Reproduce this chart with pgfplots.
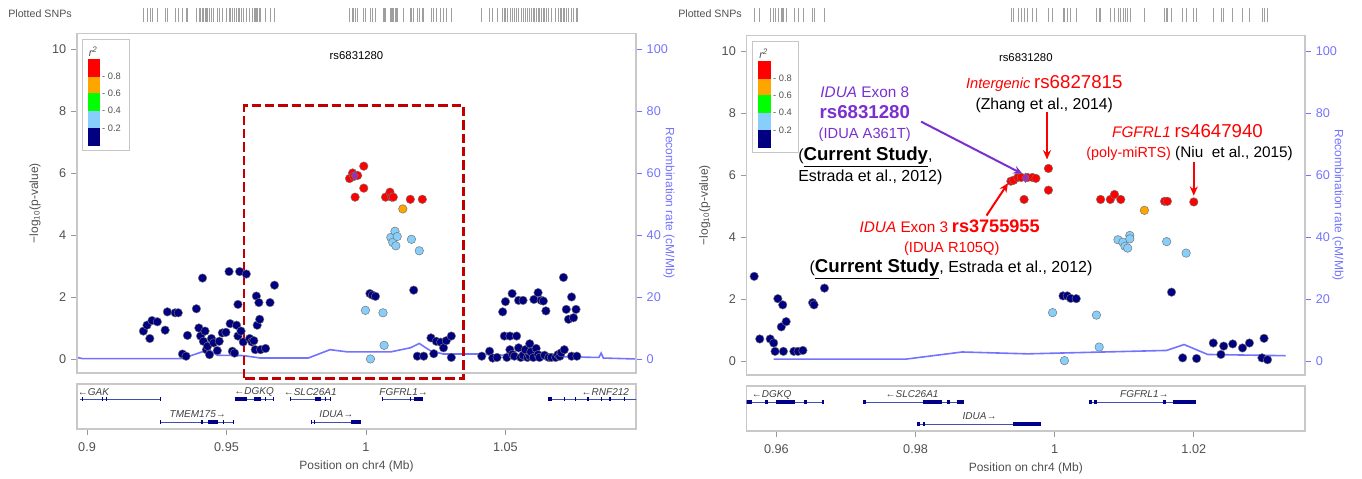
\documentclass[border=0pt]{standalone}
\usepackage{fontspec}
\setmainfont{Liberation Sans}
\usepackage{pgfplots}
\pgfplotsset{compat=1.18}
\usepackage{pgfplotstable}
\usetikzlibrary{arrows.meta}

\definecolor{r2navy}{HTML}{000080}
\definecolor{r2blue}{HTML}{87CEFA}
\definecolor{r2green}{HTML}{00FF00}
\definecolor{r2orange}{HTML}{FFA500}
\definecolor{r2red}{HTML}{FF0000}
\definecolor{leadpurple}{HTML}{9632B8}
\definecolor{annpurple}{HTML}{7A30D0}
\definecolor{recblue}{HTML}{7373FF}
\definecolor{framegray}{HTML}{C8C8C8}
\definecolor{txtgray}{HTML}{505050}
\definecolor{boxred}{HTML}{C00000}
\definecolor{genenavy}{HTML}{000088}
\definecolor{introblue}{HTML}{4050B0}

\pgfplotsset{
  /pgf/number format/assume math mode=true,
  lzbase/.style={scale only axis,
    ticklabel style={font=\fontsize{9.5}{11}\selectfont, text=txtgray},
    tick style={gray!80, line width=0.5pt},
    major tick length=4.5pt, tick align=outside,
    axis line style={framegray, line width=0.9pt}},
  snp/.style={only marks, mark=*, mark size=3.2pt,
    mark options={draw=black!55, line width=0.35pt, fill=#1}},
  rug/.style={only marks, mark=|, mark size=5pt,
    mark options={gray!75, line width=0.45pt}},
  exon/.style={genenavy, line width=3pt},
  intron/.style={introblue, line width=0.6pt},
}

\tikzset{annarrow/.style={line width=1.5pt, -{Stealth[length=7pt,width=6pt]}},
  genelab/.style={font=\fontsize{7.5}{9}\selectfont\itshape, text=black!75, inner sep=0pt}}

% r^2 legend: box left, bar left, bar right, box right
\newcommand\rsqlegend[4]{%
  \draw[gray!45, line width=0.6pt] (axis cs:#1,6.72) rectangle (axis cs:#4,10.32);
  \fill[r2navy] (axis cs:#2,6.87) rectangle (axis cs:#3,7.44);
  \fill[r2blue] (axis cs:#2,7.44) rectangle (axis cs:#3,8.01);
  \fill[r2green] (axis cs:#2,8.01) rectangle (axis cs:#3,8.57);
  \fill[r2orange] (axis cs:#2,8.57) rectangle (axis cs:#3,9.11);
  \fill[r2red] (axis cs:#2,9.11) rectangle (axis cs:#3,9.67);
  \node[anchor=west, font=\fontsize{7}{8}\selectfont, text=txtgray, inner sep=1.5pt] at (axis cs:#3,7.44) {- 0.2};
  \node[anchor=west, font=\fontsize{7}{8}\selectfont, text=txtgray, inner sep=1.5pt] at (axis cs:#3,8.01) {- 0.4};
  \node[anchor=west, font=\fontsize{7}{8}\selectfont, text=txtgray, inner sep=1.5pt] at (axis cs:#3,8.57) {- 0.6};
  \node[anchor=west, font=\fontsize{7}{8}\selectfont, text=txtgray, inner sep=1.5pt] at (axis cs:#3,9.11) {- 0.8};
  \node[font=\fontsize{8}{9}\selectfont\itshape, text=txtgray] at (axis cs:#2,9.92) [xshift=4pt] {r\textsuperscript{2}};
}

% ---------------- left panel data ----------------
\pgfplotstableread{
x y
0.9202 0.90
0.9215 1.09
0.9225 0.66
0.9233 1.24
0.9252 1.20
0.9280 0.93
0.9288 1.52
0.9316 1.49
0.9327 1.49
0.9342 0.16
0.9355 0.09
0.9360 0.76
0.9392 1.62
0.9401 1.00
0.9407 0.74
0.9414 2.61
0.9417 0.57
0.9423 0.90
0.9428 0.30
0.9432 0.41
0.9439 0.14
0.9446 0.66
0.9454 0.52
0.9467 0.27
0.9474 0.57
0.9485 0.84
0.9498 0.86
0.9509 2.82
0.9513 1.14
0.9521 0.25
0.9529 0.19
0.9536 1.09
0.9541 1.76
0.9541 0.74
0.9547 2.82
0.9552 0.90
0.9560 0.55
0.9571 2.74
0.9583 0.66
0.9591 0.55
0.9598 0.59
0.9603 0.30
0.9607 2.03
0.9610 1.09
0.9616 1.82
0.9619 1.28
0.9622 0.30
0.9640 0.34
0.9656 1.82
0.9672 2.38
1.0014 2.11
1.0023 2.06
1.0034 2.02
1.0171 2.22
1.0184 0.09
1.0207 0.09
1.0233 0.68
1.0243 0.17
1.0252 0.57
1.0268 0.54
1.0278 0.36
1.0288 0.59
1.0306 0.74
1.0306 0.05
1.0415 0.09
1.0443 0.25
1.0454 0.03
1.0470 0.05
1.0490 1.52
1.0500 1.85
1.0496 0.74
1.0505 0.05
1.0516 0.74
1.0524 2.11
1.0516 0.30
1.0525 0.15
1.0532 0.09
1.0540 0.74
1.0547 1.89
1.0547 0.36
1.0555 0.05
1.0563 1.89
1.0563 0.12
1.0571 0.30
1.0579 0.05
1.0587 0.49
1.0587 0.09
1.0591 0.23
1.0600 0.05
1.0602 1.92
1.0610 0.34
1.0617 2.14
1.0617 0.14
1.0622 0.05
1.0628 1.89
1.0636 1.87
1.0640 0.12
1.0645 1.55
1.0655 0.05
1.0665 0.05
1.0680 0.05
1.0688 0.14
1.0695 0.09
1.0700 0.20
1.0708 2.63
1.0711 0.30
1.0718 1.60
1.0726 1.28
1.0737 2.00
1.0737 0.09
1.0744 1.33
1.0753 1.60
1.0756 0.09
}\Lnavy

\pgfplotstableread{
x y
1.0089 3.92
1.0096 3.76
1.0104 4.12
1.0107 3.65
1.0112 3.95
1.0163 3.86
1.0191 3.49
0.9998 1.57
1.0061 1.49
1.0065 0.44
1.0016 0.00
}\Lblue

\pgfplotstableread{
x y
1.0132 4.84
}\Lorange

\pgfplotstableread{
x y
0.9941 5.82
0.9952 6.00
0.9956 5.89
0.9961 5.22
0.9970 5.92
0.9992 6.22
0.9992 5.51
1.0070 5.22
1.0086 5.38
1.0092 5.22
1.0098 5.22
1.0159 5.15
1.0202 5.15
}\Lred

\pgfplotstableread{
x y
0.9960 5.91
}\Llead

% recombination rate (cM/Mb)
\pgfplotstableread{
x y
0.8964 0.5
0.8985 0.1
0.9340 0.1
0.9436 3.0
0.9467 1.2
0.9560 1.1
0.9622 0.3
0.9793 0.3
0.9871 3.0
0.9933 2.3
1.0089 2.3
1.0159 3.6
1.0191 5.0
1.0230 2.7
1.0277 1.6
1.0401 1.6
1.0555 0.9
1.0835 0.5
1.0843 1.9
1.0851 0.3
1.0968 0.0
}\Lrec

% ---------------- right panel data ----------------
\pgfplotstableread{
x y
0.9568 2.73
0.9576 0.71
0.9591 0.71
0.9596 0.58
0.9598 0.31
0.9602 2.01
0.9607 1.10
0.9609 1.81
0.9610 0.31
0.9614 1.27
0.9625 0.31
0.9631 0.31
0.9638 0.34
0.9652 1.88
0.9654 1.81
0.9669 2.35
1.0012 2.10
1.0018 2.10
1.0023 2.02
1.0031 2.01
1.0168 2.22
1.0184 0.10
1.0204 0.08
1.0228 0.58
1.0239 0.21
1.0243 0.48
1.0256 0.55
1.0270 0.42
1.0280 0.58
1.0301 0.73
1.0298 0.10
1.0306 0.04
}\Rnavy

\pgfplotstableread{
x y
0.9997 1.56
1.0014 0.01
1.0060 1.48
1.0064 0.45
1.0091 3.91
1.0098 3.83
1.0101 3.70
1.0105 3.64
1.0108 4.05
1.0108 3.94
1.0161 3.85
1.0189 3.48
}\Rblue

\pgfplotstableread{
x y
1.0129 4.86
}\Rorange

\pgfplotstableread{
x y
0.9937 5.80
0.9941 5.83
0.9947 5.92
0.9952 5.92
0.9956 5.21
0.9961 5.92
0.9968 5.92
0.9973 5.89
0.9991 6.21
0.9991 5.51
1.0066 5.21
1.0080 5.21
1.0086 5.37
1.0095 5.21
1.0158 5.15
1.0162 5.15
1.0200 5.13
}\Rred

\pgfplotstableread{
x y
0.9958 5.91
}\Rlead

\pgfplotstableread{
x y
0.9596 0.6
0.9786 0.6
0.9867 2.9
0.9961 2.3
1.0161 3.4
1.0186 5.3
1.0220 2.1
1.0332 1.7
}\Rrec

\begin{document}
\begin{tikzpicture}
\path[use as bounding box] (0,0) rectangle (1021.5pt,358.5pt);

% ================= LEFT PANEL =================
\node[font=\fontsize{8}{9}\selectfont, text=txtgray] at (30pt,348pt) {Plotted SNPs};
\begin{axis}[scale only axis, at={(57.75pt,352.5pt)}, anchor=north west,
  width=419.25pt, height=10.5pt, xmin=0.8964, xmax=1.0968, ymin=0, ymax=1, hide axis]
\addplot[rug] table[x=x, y expr=0.5] {\Lnavy};
\addplot[rug] table[x=x, y expr=0.5] {\Lblue};
\addplot[rug] table[x=x, y expr=0.5] {\Lorange};
\addplot[rug] table[x=x, y expr=0.5] {\Lred};
\end{axis}

% recombination rate axis (right)
\begin{axis}[lzbase, at={(57.75pt,333.4pt)}, anchor=north west,
  width=419.25pt, height=254.6pt,
  xmin=0.8964, xmax=1.0968, ymin=-4.5, ymax=105,
  axis x line=none, axis y line*=right,
  y axis line style={draw=none},
  ytick={0,20,...,100},
  ytick style={recblue},
  yticklabel style={text=recblue},
  ylabel={Recombination rate (cM/Mb)},
  ylabel style={at={(axis description cs:1.059,0.5)}, anchor=center, rotate=180,
    font=\fontsize{9}{11}\selectfont, text=recblue}]
\addplot[recblue, line width=1.2pt] table {\Lrec};
\end{axis}

% association axis
\begin{axis}[lzbase, at={(57.75pt,333.4pt)}, anchor=north west,
  width=419.25pt, height=254.6pt,
  xmin=0.8964, xmax=1.0968, ymin=-0.45, ymax=10.5,
  xtick=\empty, ytick={0,2,...,10}, ytick pos=left, clip=false,
  ylabel={−log\textsubscript{10}(p-value)},
  ylabel style={at={(axis description cs:-0.075,0.5)}, anchor=center,
    font=\fontsize{9}{11}\selectfont, text=txtgray}]
\addplot[snp=r2navy] table {\Lnavy};
\addplot[snp=r2blue] table {\Lblue};
\addplot[snp=r2orange] table {\Lorange};
\addplot[snp=r2red] table {\Lred};
\addplot[only marks, mark=diamond*, mark size=3.6pt,
  mark options={draw=black!55, line width=0.3pt, fill=leadpurple}] table {\Llead};
\node[font=\fontsize{8.5}{10}\selectfont] at (rel axis cs:0.5,0.935) {rs6831280};
\rsqlegend{0.8984}{0.9003}{0.9046}{0.9151}
\draw[boxred, line width=2pt, dash pattern=on 7pt off 3pt]
  (axis cs:0.9563,-0.62) rectangle (axis cs:1.0350,8.17);
\end{axis}

% gene track
\begin{axis}[lzbase, at={(57.75pt,70.5pt)}, anchor=north west,
  width=419.25pt, height=33.75pt,
  xmin=0.8964, xmax=1.0968, ymin=0, ymax=1,
  ytick=\empty, xtick={0.9,0.95,1,1.05}, xticklabels={0.9,0.95,1,1.05},
  xtick pos=bottom, xticklabel style={yshift=-2.5pt},
  xlabel={Position on chr4 (Mb)},
  xlabel style={font=\fontsize{9}{11}\selectfont, text=txtgray},
  unbounded coords=jump]
\addplot[intron] coordinates {(0.8974,0.66) (0.9264,0.66) (nan,nan)
  (0.9529,0.66) (0.9672,0.66) (nan,nan) (0.9728,0.66) (0.9874,0.66) (nan,nan)
  (1.0058,0.66) (1.0205,0.66) (nan,nan) (1.0652,0.66) (1.0975,0.66) (nan,nan)
  (0.9264,0.15) (0.9524,0.15) (nan,nan) (0.9806,0.15) (0.9983,0.15)};
\addplot[exon] coordinates {
  (0.8982,0.66) (0.8987,0.66) (nan,nan) (0.9052,0.66) (0.9057,0.66) (nan,nan)
  (0.9068,0.66) (0.9073,0.66) (nan,nan) (0.9262,0.66) (0.9266,0.66) (nan,nan)
  (0.9529,0.66) (0.9575,0.66) (nan,nan) (0.9599,0.66) (0.9622,0.66) (nan,nan)
  (0.9638,0.66) (0.9643,0.66) (nan,nan) (0.9667,0.66) (0.9672,0.66) (nan,nan)
  (0.9726,0.66) (0.9731,0.66) (nan,nan) (0.9816,0.66) (0.9840,0.66) (nan,nan)
  (0.9853,0.66) (0.9858,0.66) (nan,nan) (0.9872,0.66) (0.9876,0.66) (nan,nan)
  (1.0056,0.66) (1.0061,0.66) (nan,nan) (1.0157,0.66) (1.0161,0.66) (nan,nan)
  (1.0172,0.66) (1.0205,0.66) (nan,nan)
  (1.0652,0.66) (1.0667,0.66) (nan,nan) (1.0709,0.66) (1.0713,0.66) (nan,nan)
  (1.0748,0.66) (1.0752,0.66) (nan,nan) (1.0794,0.66) (1.0798,0.66) (nan,nan)
  (1.0841,0.66) (1.0845,0.66) (nan,nan) (1.0870,0.66) (1.0880,0.66) (nan,nan)
  (1.0926,0.66) (1.0930,0.66) (nan,nan)
  (0.9262,0.15) (0.9266,0.15) (nan,nan) (0.9410,0.15) (0.9414,0.15) (nan,nan)
  (0.9433,0.15) (0.9470,0.15) (nan,nan) (0.9488,0.15) (0.9492,0.15) (nan,nan)
  (0.9522,0.15) (0.9526,0.15) (nan,nan)
  (0.9804,0.15) (0.9808,0.15) (nan,nan) (0.9814,0.15) (0.9818,0.15) (nan,nan)
  (0.9947,0.15) (0.9983,0.15)};
\node[genelab] at (axis cs:0.9023,0.83) {←GAK};
\node[genelab] at (axis cs:0.9599,0.83) {←DGKQ};
\node[genelab] at (axis cs:0.9800,0.83) {←SLC26A1};
\node[genelab] at (axis cs:1.0135,0.83) {FGFRL1→};
\node[genelab] at (axis cs:1.0858,0.83) {←RNF212};
\node[genelab] at (axis cs:0.9397,0.33) {TMEM175→};
\node[genelab] at (axis cs:0.9894,0.33) {IDUA→};
\end{axis}

% ================= RIGHT PANEL =================
\node[font=\fontsize{8}{9}\selectfont, text=txtgray] at (532.5pt,348pt) {Plotted SNPs};
\begin{axis}[scale only axis, at={(559.9pt,352.5pt)}, anchor=north west,
  width=418.9pt, height=10.5pt, xmin=0.9557, xmax=1.0360, ymin=0, ymax=1, hide axis]
\addplot[rug] table[x=x, y expr=0.5] {\Rnavy};
\addplot[rug] table[x=x, y expr=0.5] {\Rblue};
\addplot[rug] table[x=x, y expr=0.5] {\Rorange};
\addplot[rug] table[x=x, y expr=0.5] {\Rred};
\end{axis}

\begin{axis}[lzbase, at={(559.9pt,331.9pt)}, anchor=north west,
  width=418.9pt, height=254.6pt,
  xmin=0.9557, xmax=1.0360, ymin=-4.5, ymax=105,
  axis x line=none, axis y line*=right,
  y axis line style={draw=none},
  ytick={0,20,...,100},
  ytick style={recblue},
  yticklabel style={text=recblue},
  ylabel={Recombination rate (cM/Mb)},
  ylabel style={at={(axis description cs:1.059,0.5)}, anchor=center, rotate=180,
    font=\fontsize{9}{11}\selectfont, text=recblue}]
\addplot[recblue, line width=1.2pt] table {\Rrec};
\end{axis}

\begin{axis}[lzbase, at={(559.9pt,331.9pt)}, anchor=north west,
  width=418.9pt, height=254.6pt,
  xmin=0.9557, xmax=1.0360, ymin=-0.45, ymax=10.5,
  xtick=\empty, ytick={0,2,...,10}, ytick pos=left, clip=false,
  ylabel={−log\textsubscript{10}(p-value)},
  ylabel style={at={(axis description cs:-0.075,0.5)}, anchor=center,
    font=\fontsize{9}{11}\selectfont, text=txtgray}]
\addplot[snp=r2navy] table {\Rnavy};
\addplot[snp=r2blue] table {\Rblue};
\addplot[snp=r2orange] table {\Rorange};
\addplot[snp=r2red] table {\Rred};
\addplot[only marks, mark=diamond*, mark size=3.6pt,
  mark options={draw=black!55, line width=0.3pt, fill=leadpurple}] table {\Rlead};
\node[font=\fontsize{8.5}{10}\selectfont] at (rel axis cs:0.5,0.935) {rs6831280};
\rsqlegend{0.9565}{0.9574}{0.9592}{0.9632}
% annotations
\node[text=annpurple, font=\fontsize{11.5}{13}\selectfont] at (axis cs:0.9727,8.68) {\textit{IDUA} Exon 8};
\node[text=annpurple, font=\fontsize{14}{16}\selectfont\bfseries] at (axis cs:0.9727,8.03) {rs6831280};
\node[text=annpurple, font=\fontsize{11}{13}\selectfont] at (axis cs:0.9727,7.29) {(IDUA A361T)};
\node[anchor=west, inner sep=0pt, font=\fontsize{12}{14}\selectfont] at (axis cs:0.9631,6.57)
  {(\textbf{\fontsize{14}{16}\selectfont\underline{Current Study}},};
\node[anchor=west, inner sep=0pt, font=\fontsize{12}{14}\selectfont] at (axis cs:0.9631,5.92)
  {Estrada et al., 2012)};
\draw[annpurple, annarrow] (axis cs:0.9808,7.72) -- (axis cs:0.9954,6.03);

\node[text=r2red] at (axis cs:0.9985,8.94)
  {{\fontsize{11}{13}\selectfont\textit{Intergenic}} {\fontsize{14}{16}\selectfont rs6827815}};
\node[font=\fontsize{11.8}{14}\selectfont] at (axis cs:0.9985,8.24) {(Zhang et al., 2014)};
\draw[r2red, annarrow] (axis cs:0.9989,8.02) -- (axis cs:0.9989,6.50);

\node[text=r2red] at (axis cs:1.0191,7.43)
  {{\fontsize{11.5}{13}\selectfont\textit{FGFRL1}} {\fontsize{14}{16}\selectfont rs4647940}};
\node[font=\fontsize{11.5}{13}\selectfont] at (axis cs:1.0194,6.68)
  {\textcolor{r2red}{\fontsize{10.8}{13}\selectfont(poly-miRTS)} (Niu\ \ et al., 2015)};
\draw[r2red, annarrow] (axis cs:1.0200,6.41) -- (axis cs:1.0200,5.33);

\node[text=r2red] at (axis cs:0.9849,4.36)
  {{\fontsize{11.5}{13}\selectfont\textit{IDUA} Exon 3} {\fontsize{13.6}{16}\selectfont\bfseries rs3755955}};
\node[text=r2red, font=\fontsize{11}{13}\selectfont] at (axis cs:0.9852,3.61) {(IDUA R105Q)};
\node[font=\fontsize{12}{14}\selectfont] at (axis cs:0.9851,2.97)
  {(\textbf{\fontsize{14}{16}\selectfont\underline{Current Study}}, Estrada et al., 2012)};
\draw[r2red, annarrow] (axis cs:0.9902,4.69) -- (axis cs:0.9933,5.74);
\end{axis}

\begin{axis}[lzbase, at={(559.9pt,69pt)}, anchor=north west,
  width=418.9pt, height=33.75pt,
  xmin=0.9557, xmax=1.0360, ymin=0, ymax=1,
  ytick=\empty, xtick={0.96,0.98,1,1.02}, xticklabels={0.96,0.98,1,1.02},
  xtick pos=bottom, xticklabel style={yshift=-2.5pt},
  xlabel={Position on chr4 (Mb)},
  xlabel style={font=\fontsize{9}{11}\selectfont, text=txtgray},
  unbounded coords=jump]
\addplot[intron] coordinates {(0.9550,0.64) (0.9667,0.64) (nan,nan)
  (0.9727,0.64) (0.9869,0.64) (nan,nan) (1.0051,0.64) (1.0203,0.64) (nan,nan)
  (0.9804,0.15) (0.9980,0.15)};
\addplot[exon] coordinates {
  (0.9550,0.64) (0.9565,0.64) (nan,nan) (0.9584,0.64) (0.9588,0.64) (nan,nan)
  (0.9600,0.64) (0.9626,0.64) (nan,nan) (0.9640,0.64) (0.9644,0.64) (nan,nan)
  (0.9665,0.64) (0.9669,0.64) (nan,nan)
  (0.9725,0.64) (0.9729,0.64) (nan,nan) (0.9810,0.64) (0.9838,0.64) (nan,nan)
  (0.9845,0.64) (0.9849,0.64) (nan,nan) (0.9859,0.64) (0.9869,0.64) (nan,nan)
  (1.0049,0.64) (1.0053,0.64) (nan,nan) (1.0057,0.64) (1.0061,0.64) (nan,nan)
  (1.0156,0.64) (1.0160,0.64) (nan,nan) (1.0170,0.64) (1.0203,0.64) (nan,nan)
  (0.9802,0.15) (0.9806,0.15) (nan,nan) (0.9810,0.15) (0.9814,0.15) (nan,nan)
  (0.9940,0.15) (0.9980,0.15)};
\node[genelab] at (axis cs:0.9593,0.81) {←DGKQ};
\node[genelab] at (axis cs:0.9795,0.81) {←SLC26A1};
\node[genelab] at (axis cs:1.0129,0.81) {FGFRL1→};
\node[genelab] at (axis cs:0.9892,0.33) {IDUA→};
\end{axis}
\end{tikzpicture}
\end{document}
